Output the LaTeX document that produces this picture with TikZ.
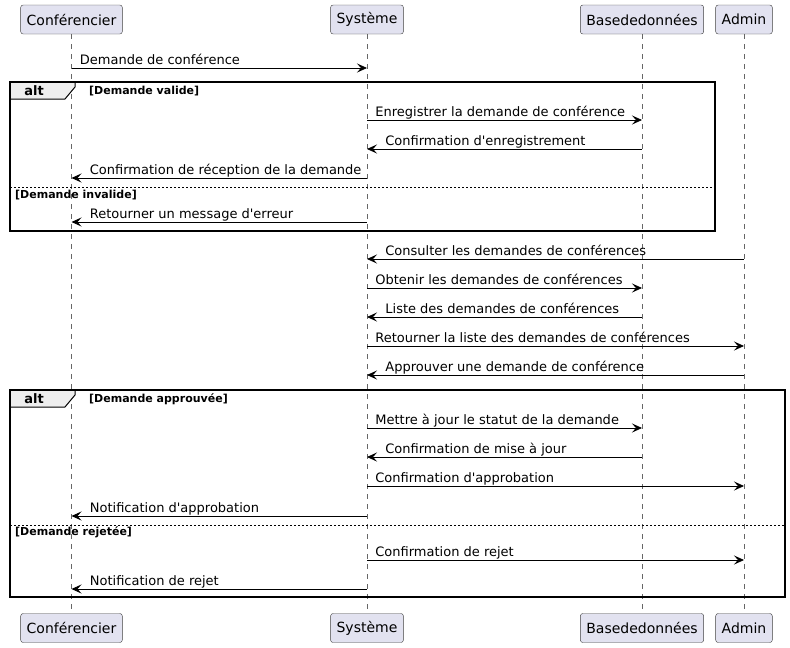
\documentclass[tikz,border=0pt]{standalone}
\usepackage{fontspec}
\setmainfont{DejaVu Sans}
\usetikzlibrary{arrows.meta,positioning,calc}

\definecolor{partfill}{HTML}{E2E2F0}
\definecolor{tabfill}{HTML}{EEEEEE}
\tikzset{
  part/.style={draw=black!75, fill=partfill, rounded corners=2.5pt,
    minimum height=29pt, inner xsep=6pt, font=\fontsize{14}{16}\selectfont},
  life/.style={draw=black!60, line width=0.5pt, dash pattern=on 5pt off 5pt},
  tip/.tip={Stealth[length=10pt,width=9pt,inset=4pt]},
  tor/.style={-tip, line width=0.8pt},
  tol/.style={tip-, line width=0.8pt},
  mr/.style={pos=0, anchor=base west, xshift=8pt, yshift=4pt, inner sep=0pt,
    font=\fontsize{13}{15}\selectfont},
  ml/.style={mr, xshift=10pt},
  frame/.style={draw, line width=1.5pt},
  tabbox/.style={draw, fill=tabfill, line width=1pt},
  alttxt/.style={font=\fontsize{13}{15}\bfseries},
  guard/.style={anchor=west, inner sep=0pt, font=\fontsize{11}{13}\bfseries},
  sep/.style={line width=0.8pt, dash pattern=on 2pt off 2pt}
}

\begin{document}
\begin{tikzpicture}[x=1pt,y=-1pt]
  \useasboundingbox (0,0) rectangle (790,648);

  % participants
  \node[part] (conf) at (71.5,19.5) {Conférencier};
  \node[part] (sys)  at (367,19.5)  {Système};
  \node[part] (bdd)  at (642,19.5)  {Basededonnées};
  \node[part] (adm)  at (744,19.5)  {Admin};
  \node[part] (conf2) at (71.5,628) {Conférencier};
  \node[part] (sys2)  at (367,628)  {Système};
  \node[part] (bdd2)  at (642,628)  {Basededonnées};
  \node[part] (adm2)  at (744,628)  {Admin};

  % lifelines
  \foreach \p in {conf,sys,bdd,adm}
    \draw[life] (\p.south) -- (\p2.north);

  % first alt
  \draw[tabbox] (10,82) -- (75,82) -- (75,87) -- (65,99) -- (10,99) -- cycle;
  \node[alttxt] (alt1) at (34,90.5) {alt};
  \node[guard] (g1) at (89,91) {[Demande valide]};
  \draw[sep] (10,187) -- (715,187);
  \node[guard] (g2) at (15,195) {[Demande invalide]};
  \draw[frame] (10,82) rectangle (715,231);

  % second alt
  \draw[tabbox] (10,390) -- (75,390) -- (75,395) -- (65,407) -- (10,407) -- cycle;
  \node[alttxt] (alt2) at (34,398.5) {alt};
  \node[guard] (g3) at (89,399) {[Demande approuvée]};
  \draw[sep] (10,525) -- (785,525);
  \node[guard] (g4) at (15,532) {[Demande rejetée]};
  \draw[frame] (10,390) rectangle (785,597);

  % messages
  \draw[tor] (conf |- 0,68) -- (sys |- 0,68) node[mr] {Demande de conférence};
  \draw[tor] (sys |- 0,120) -- (bdd |- 0,120) node[mr] {Enregistrer la demande de conférence};
  \draw[tol] (sys |- 0,149) -- (bdd |- 0,149) node[ml] {Confirmation d\textquotesingle enregistrement};
  \draw[tol] (conf |- 0,178) -- (sys |- 0,178) node[ml] {Confirmation de réception de la demande};
  \draw[tol] (conf |- 0,222) -- (sys |- 0,222) node[ml] {Retourner un message d\textquotesingle erreur};
  \draw[tol] (sys |- 0,259) -- (adm |- 0,259) node[ml] {Consulter les demandes de conférences};
  \draw[tor] (sys |- 0,288) -- (bdd |- 0,288) node[mr] {Obtenir les demandes de conférences};
  \draw[tol] (sys |- 0,317) -- (bdd |- 0,317) node[ml] {Liste des demandes de conférences};
  \draw[tor] (sys |- 0,346) -- (adm |- 0,346) node[mr] {Retourner la liste des demandes de conférences};
  \draw[tol] (sys |- 0,375) -- (adm |- 0,375) node[ml] {Approuver une demande de conférence};
  \draw[tor] (sys |- 0,428) -- (bdd |- 0,428) node[mr] {Mettre à jour le statut de la demande};
  \draw[tol] (sys |- 0,457) -- (bdd |- 0,457) node[ml] {Confirmation de mise à jour};
  \draw[tor] (sys |- 0,486) -- (adm |- 0,486) node[mr] {Confirmation d\textquotesingle approbation};
  \draw[tol] (conf |- 0,516) -- (sys |- 0,516) node[ml] {Notification d\textquotesingle approbation};
  \draw[tor] (sys |- 0,560) -- (adm |- 0,560) node[mr] {Confirmation de rejet};
  \draw[tol] (conf |- 0,589) -- (sys |- 0,589) node[ml] {Notification de rejet};
\end{tikzpicture}
\end{document}
